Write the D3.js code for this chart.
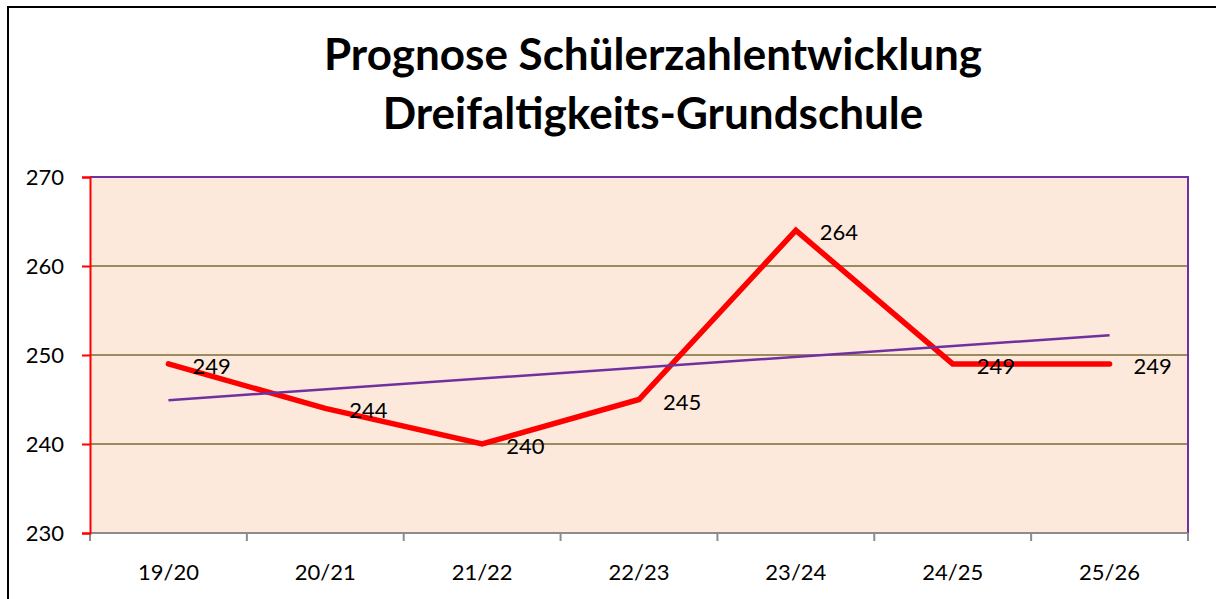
<!DOCTYPE html>
<html>
<head>
<meta charset="utf-8">
<script src="https://cdn.jsdelivr.net/npm/d3@7"></script>
<style>
  body { margin: 0; background: #fff; }
  svg { display: block; font-family: Lato, "Open Sans", sans-serif; }
</style>
</head>
<body>
<svg id="chart" width="1216" height="599"></svg>
<script>
// data
const years = ["19/20", "20/21", "21/22", "22/23", "23/24", "24/25", "25/26"];
const pupils = [249, 244, 240, 245, 264, 249, 249];
const yTicks = [230, 240, 250, 260, 270];
const titleLines = ["Prognose Schülerzahlentwicklung", "Dreifaltigkeits-Grundschule"];

const W = 1216, H = 599;
const plot = { left: 90, right: 1188, top: 177, bottom: 533 };

const svg = d3.select("#chart");

// outer chart frame (only top and left edges fall inside the picture)
svg.append("path")
    .attr("d", `M8,${H + 2} V7 H${W + 2}`)
    .attr("fill", "none")
    .attr("stroke", "#000")
    .attr("stroke-width", 2);

// title
svg.append("g")
    .attr("font-weight", "bold")
    .attr("font-size", 44)
    .attr("text-anchor", "middle")
    .selectAll("text")
    .data(titleLines)
    .join("text")
    .attr("x", 653)
    .attr("y", (d, i) => 70 + i * 59)
    .text(d => d);

const x = d3.scaleBand().domain(years).range([plot.left, plot.right]);
const y = d3.scaleLinear().domain([230, 270]).range([plot.bottom, plot.top]);
const cx = d => x(d) + x.bandwidth() / 2;

// plot area
svg.append("rect")
    .attr("x", plot.left).attr("y", plot.top)
    .attr("width", plot.right - plot.left)
    .attr("height", plot.bottom - plot.top)
    .attr("fill", "#fce9dc");

// gridlines
svg.append("g")
    .attr("stroke", "#9c8b5e")
    .attr("stroke-width", 2)
    .selectAll("line")
    .data(yTicks.filter(t => t > 230 && t < 270))
    .join("line")
    .attr("x1", plot.left).attr("x2", plot.right)
    .attr("y1", d => y(d)).attr("y2", d => y(d));

// top + right border of plot area
svg.append("path")
    .attr("d", `M${plot.left},${plot.top} H${plot.right} V${plot.bottom}`)
    .attr("fill", "none")
    .attr("stroke", "#7030a0")
    .attr("stroke-width", 2);

// x axis
const xAxis = svg.append("g")
    .attr("transform", `translate(0,${plot.bottom})`);
xAxis.append("line")
    .attr("x1", plot.left).attr("x2", plot.right)
    .attr("stroke", "#8c8c8c").attr("stroke-width", 2);
xAxis.selectAll("line.tick")
    .data(years.concat([null]))
    .join("line")
    .attr("class", "tick")
    .attr("x1", (d, i) => plot.left + i * x.bandwidth())
    .attr("x2", (d, i) => plot.left + i * x.bandwidth())
    .attr("y1", 0).attr("y2", 8)
    .attr("stroke", "#8c8c8c").attr("stroke-width", 2);
xAxis.selectAll("text")
    .data(years)
    .join("text")
    .attr("x", d => cx(d))
    .attr("y", 47)
    .attr("text-anchor", "middle")
    .attr("font-size", 22)
    .text(d => d);

// y axis
const yAxis = svg.append("g")
    .attr("transform", `translate(${plot.left},0)`)
    .call(d3.axisLeft(y).tickValues(yTicks).tickSize(8).tickPadding(18).tickFormat(d3.format("d")));
yAxis.select(".domain").attr("stroke", "#ff0000").attr("stroke-width", 2);
yAxis.selectAll(".tick line").attr("stroke", "#ff0000").attr("stroke-width", 2);
yAxis.selectAll(".tick text")
    .attr("font-size", 22)
    .attr("font-family", "Lato, 'Open Sans', sans-serif")
    .attr("fill", "#000");

// linear trend line (least squares over the series)
const idx = pupils.map((v, i) => i);
const mx = d3.mean(idx), my = d3.mean(pupils);
const slope = d3.sum(idx, i => (i - mx) * (pupils[i] - my)) / d3.sum(idx, i => (i - mx) ** 2);
const trend = [0, years.length - 1].map(i => [cx(years[i]), y(my + slope * (i - mx))]);

// series line
svg.append("path")
    .datum(pupils)
    .attr("fill", "none")
    .attr("stroke", "#ff0000")
    .attr("stroke-width", 5.5)
    .attr("stroke-linecap", "round")
    .attr("stroke-linejoin", "miter")
    .attr("d", d3.line().x((d, i) => cx(years[i])).y(d => y(d)));

svg.append("path")
    .attr("fill", "none")
    .attr("stroke", "#7030a0")
    .attr("stroke-width", 2.5)
    .attr("d", d3.line()(trend));

// data labels
svg.append("g")
    .attr("font-size", 22)
    .selectAll("text")
    .data(pupils)
    .join("text")
    .attr("x", (d, i) => cx(years[i]) + 24)
    .attr("y", d => y(d) + 10)
    .text(d => d);
</script>
</body>
</html>
